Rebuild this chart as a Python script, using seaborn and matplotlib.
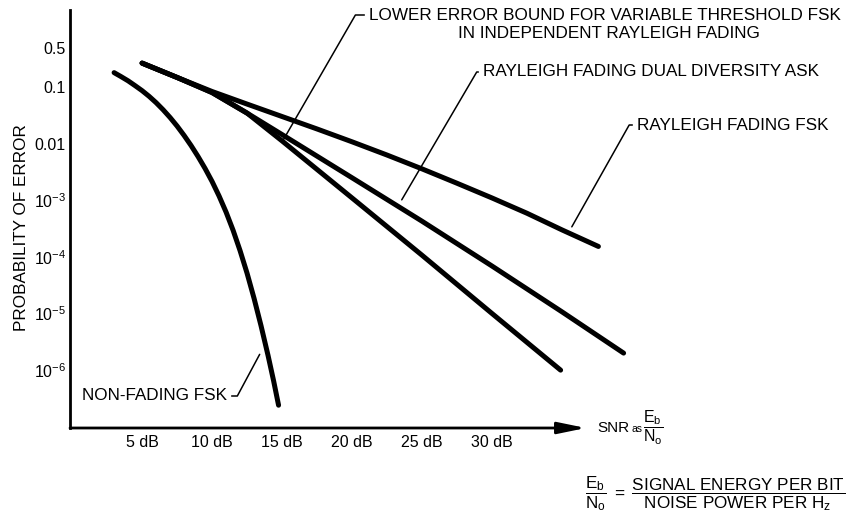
import pandas as pd
import matplotlib.pyplot as plt
import seaborn as sns

# Style settings
sns.set_theme(style='white')
plt.rcParams['font.family'] = ['Liberation Sans', 'DejaVu Sans']
plt.rcParams['mathtext.fontset'] = 'custom'
plt.rcParams['mathtext.rm'] = 'Liberation Sans'
plt.rcParams['mathtext.it'] = 'Liberation Sans'
plt.rcParams['mathtext.default'] = 'regular'
plt.rcParams['text.color'] = 'black'

# ====== Data (SNR in dB, probability of error) ======
nonfading_db = [3, 3.5, 4, 4.5, 5, 5.5, 6, 6.5, 7, 7.5, 8, 8.5, 9, 9.5, 10,
                10.5, 11, 11.5, 12, 12.5, 13, 13.5, 14, 14.4, 14.75]
nonfading_pe = [0.180, 0.153, 0.129, 0.106, 0.0865, 0.0687, 0.0531, 0.0398,
                0.0290, 0.0205, 0.0140, 9.27e-3, 5.92e-3, 3.65e-3, 2.15e-3,
                1.19e-3, 6.19e-4, 2.96e-4, 1.29e-4, 5.15e-5, 1.85e-5, 6.05e-6,
                1.81e-6, 6.4e-7, 2.4e-7]

rayleigh_fsk_db = [5, 7.5, 10, 12.5, 15, 17.5, 20, 22.5, 25, 27.5, 30, 32.5, 35, 37.6]
rayleigh_fsk_pe = [0.265, 0.148, 0.0836, 0.0501, 0.0302, 0.0182, 0.0108, 6.3e-3,
                   3.59e-3, 2.0e-3, 1.1e-3, 5.9e-4, 3.0e-4, 1.53e-4]

dual_ask_db = [5, 7.5, 10, 12.5, 15, 20, 25, 30, 35, 39.4]
dual_ask_pe = [0.265, 0.148, 0.08, 0.0347, 0.0145, 2.5e-3, 4.27e-4, 6.9e-5,
               1.07e-5, 2.0e-6]

lower_bound_db = [5, 7.5, 10, 12.5, 15, 20, 25, 30, 34.9]
lower_bound_pe = [0.265, 0.148, 0.08, 0.0347, 0.0112, 1.1e-3, 1.07e-4, 1.0e-5, 1.0e-6]

xtick_vals = [5, 10, 15, 20, 25, 30]
xtick_labels = ['5 dB', '10 dB', '15 dB', '20 dB', '25 dB', '30 dB']
ytick_vals = [0.5, 0.1, 0.01, 1e-3, 1e-4, 1e-5, 1e-6]
ytick_labels = ['0.5', '0.1', '0.01', r'$10^{-3}$', r'$10^{-4}$', r'$10^{-5}$', r'$10^{-6}$']

curves = {
    'NON-FADING FSK': (nonfading_db, nonfading_pe),
    'RAYLEIGH FADING FSK': (rayleigh_fsk_db, rayleigh_fsk_pe),
    'RAYLEIGH FADING DUAL DIVERSITY ASK': (dual_ask_db, dual_ask_pe),
    'LOWER ERROR BOUND': (lower_bound_db, lower_bound_pe),
}
df = pd.concat([pd.DataFrame({'snr_db': x, 'pe': y, 'curve': name})
                for name, (x, y) in curves.items()], ignore_index=True)

W, H = 849, 516
def fx(x): return x / W
def fy(y): return 1 - y / H

fig = plt.figure(figsize=(W / 100, H / 100), dpi=100)
ax = fig.add_axes([fx(70), fy(428), (632 - 70) / W, (428 - 10) / H])

sns.lineplot(data=df, x='snr_db', y='pe', units='curve', estimator=None,
             color='black', lw=3.6, solid_capstyle='round',
             solid_joinstyle='round', legend=False, ax=ax)

ax.set_yscale('log')
ax.set_xlim(-0.15, 40)
ax.set_ylim(9.5e-8, 2.3)
ax.set_xticks(xtick_vals, labels=xtick_labels)
ax.set_yticks(ytick_vals, labels=ytick_labels)
ax.minorticks_off()
ax.set_xlabel('')
ax.set_ylabel('')
ax.tick_params(axis='both', direction='in', length=10, width=1.4, color='black',
               labelsize=11.5, labelcolor='black')
ax.tick_params(axis='x', pad=5)
ax.tick_params(axis='y', pad=3)
for s in ['top', 'right', 'bottom']:
    ax.spines[s].set_visible(False)
ax.spines['left'].set_color('black')
ax.spines['left'].set_linewidth(2)
ax.set_facecolor('white')

# x axis drawn as an arrow
ax.annotate('', xy=(0.918, 0), xycoords='axes fraction', xytext=(0, 0),
            arrowprops=dict(arrowstyle='-|>,head_length=1.7,head_width=0.35',
                            mutation_scale=10, lw=2, color='black',
                            shrinkA=0, shrinkB=0))

fs = 12.3
leader = dict(arrowstyle='-', color='black', lw=1.1, shrinkA=1, shrinkB=0)

ax.annotate('NON-FADING FSK', xy=(13.4, 1.9e-6),
            xytext=(fx(227), fy(396)), textcoords='figure fraction',
            ha='right', va='center', fontsize=fs,
            arrowprops=dict(leader, relpos=(1, 0.5),
                            connectionstyle='angle,angleA=0,angleB=61.8'))
ax.annotate('RAYLEIGH FADING FSK', xy=(35.7, 3.4e-4),
            xytext=(fx(637), fy(125)), textcoords='figure fraction',
            ha='left', va='center', fontsize=fs,
            arrowprops=dict(leader, relpos=(0, 0.5),
                            connectionstyle='angle,angleA=0,angleB=60.6'))
ax.annotate('RAYLEIGH FADING DUAL DIVERSITY ASK', xy=(23.55, 1.02e-3),
            xytext=(fx(483), fy(72)), textcoords='figure fraction',
            ha='left', va='center', fontsize=fs,
            arrowprops=dict(leader, relpos=(0, 0.5),
                            connectionstyle='angle,angleA=0,angleB=59.6'))
ax.annotate('LOWER ERROR BOUND FOR VARIABLE THRESHOLD FSK', xy=(15.09, 0.0117),
            xytext=(fx(369), fy(15)), textcoords='figure fraction',
            ha='left', va='center', fontsize=fs,
            arrowprops=dict(leader, relpos=(0, 0.5),
                            connectionstyle='angle,angleA=0,angleB=60'))
fig.text(fx(609), fy(33), 'IN INDEPENDENT RAYLEIGH FADING',
         ha='center', va='center', fontsize=fs)

fig.text(fx(22), fy(228), 'PROBABILITY OF ERROR', rotation=90,
         ha='center', va='center', fontsize=fs)

fig.text(fx(597), fy(428), 'SNR', ha='left', va='center', fontsize=11)
fig.text(fx(631), fy(429), 'as', ha='left', va='center', fontsize=7.5)
fig.text(fx(643), fy(428), r'$\dfrac{E_b}{N_o}$', ha='left', va='center', fontsize=11.5)

fig.text(fx(845), fy(494),
         r'$\dfrac{E_b}{N_o}\ =\ \dfrac{SIGNAL\ ENERGY\ PER\ BIT}{NOISE\ POWER\ PER\ H_z}$',
         ha='right', va='center', fontsize=12.3)

fig.savefig('out.png', dpi=100, facecolor='white')
